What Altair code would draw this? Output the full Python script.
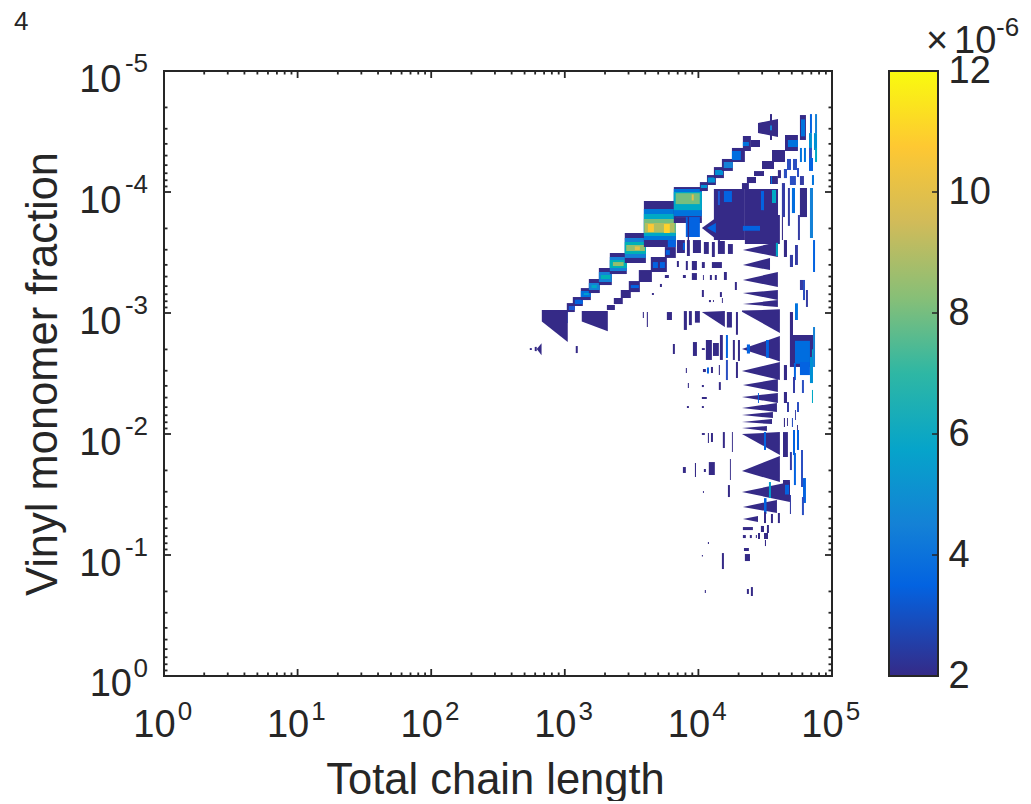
import altair as alt
import pandas as pd

# All shapes as log10(chain length) and log10(fraction).
# Rows of quads: x0, x1, top0, bottom0, top1, bottom1, value(x1e-6)
wedge_rows = [
    (2.828, 3.022, -3.025, -2.93, -3.025, -2.76, 2),
    (3.127, 3.322, -3.016, -2.93, -3.016, -2.85, 2),
    (4.026, 4.198, -3.008, -3.008, -3.016, -2.884, 2),
    (4.326, 4.61, -3.02, -3.01, -3.03, -2.835, 2),
    (4.446, 4.596, -4.57, -4.488, -4.603, -4.455, 2),
]
# Rows of triangles: tip x, end x, tip y, end top, end bottom, value
triangle_rows = [
    (2.79, 2.826, -2.702, -2.75, -2.65, 2),
    (4.026, 4.161, -3.702, -3.81, -3.587, 2),
    (4.064, 4.131, -3.702, -3.744, -3.661, 3.5),
    (4.333, 4.595, -3.521, -3.587, -3.463, 2),
    (4.333, 4.536, -3.397, -3.455, -3.355, 2),
    (4.333, 4.595, -3.273, -3.339, -3.215, 2),
    (4.333, 4.595, -3.165, -3.19, -3.107, 2),
    (4.333, 4.595, -3.074, -3.107, -3.05, 2),
    (4.326, 4.61, -2.702, -2.81, -2.6, 2),
    (4.326, 4.61, -2.52, -2.595, -2.446, 2),
    (4.333, 4.595, -2.405, -2.454, -2.347, 2),
    (4.326, 4.595, -2.306, -2.339, -2.256, 2),
    (4.326, 4.588, -2.215, -2.256, -2.182, 2),
    (4.326, 4.558, -2.157, -2.182, -2.132, 2),
    (4.326, 4.551, -2.099, -2.124, -2.082, 2),
    (4.326, 4.513, -2.049, -2.066, -2.025, 2),
    (4.326, 4.61, -2.0, -2.016, -1.826, 2),
    (4.326, 4.61, -1.694, -1.818, -1.603, 2),
    (4.326, 4.685, -1.521, -1.603, -1.438, 2),
    (4.333, 4.588, -1.397, -1.455, -1.347, 2),
    (4.333, 4.446, -1.297, -1.322, -1.273, 2),
]
# Rows of boxes: x0, x1, top, bottom, value
lump_rows = [
    (4.116, 4.348, -4.025, -3.603, 2),
    (4.348, 4.596, -4.025, -3.81, 2),
    (4.348, 4.61, -3.81, -3.57, 2),
]
lump_overlay_rows = [
    (4.333, 4.461, -3.72, -3.68, 3.5),
    (4.146, 4.161, -4.008, -3.892, 3.3),
    (4.191, 4.251, -4.008, -3.917, 3.5),
    (4.468, 4.491, -4.008, -3.85, 3.5),
    (4.551, 4.581, -4.017, -3.909, 6),
    (4.625, 4.648, -4.074, -3.793, 2.5),
    (4.67, 4.685, -4.033, -3.72, 2.5),
    (4.7, 4.723, -4.033, -3.826, 3.8),
    (4.76, 4.813, -4.033, -3.793, 2),
    (4.835, 4.858, -4.033, -3.62, 4.5),
    (4.625, 4.633, -3.793, -3.603, 2),
    (4.745, 4.76, -3.81, -3.603, 2.5),
    (4.58, 4.595, -3.58, -3.47, 6),
    (4.363, 4.386, -2.74, -2.665, 3.5),
    (4.506, 4.528, -2.777, -2.63, 3.5),
    (4.491, 4.506, -2.016, -1.868, 3.5),
    (4.528, 4.543, -1.603, -1.471, 5.5),
    (4.491, 4.51, -1.47, -1.34, 3.5),
    (4.446, 4.453, -2.339, -2.256, 3.5),
    (4.064, 4.079, -2.55, -2.5, 3.5),
]
# Upper diagonal ridge, outermost box first
ridge_rows = [
    (3.015, 3.075, -3.082, -3.008, 2), (3.03, 3.075, -3.058, -3.025, 3.3),
    (3.06, 3.135, -3.132, -3.058, 2), (3.075, 3.135, -3.11, -3.074, 3.5),
    (3.12, 3.195, -3.206, -3.107, 2), (3.12, 3.195, -3.182, -3.132, 4), (3.142, 3.18, -3.165, -3.149, 5.5),
    (3.18, 3.262, -3.281, -3.165, 2), (3.18, 3.262, -3.248, -3.19, 4.5), (3.2, 3.24, -3.231, -3.206, 6),
    (3.255, 3.352, -3.372, -3.231, 2), (3.255, 3.352, -3.339, -3.256, 4.5), (3.27, 3.34, -3.314, -3.281, 6.5),
    (3.337, 3.464, -3.496, -3.322, 2), (3.337, 3.464, -3.463, -3.347, 4.5), (3.337, 3.464, -3.438, -3.372, 6.5),
    (3.36, 3.44, -3.421, -3.388, 8.5),
    (3.449, 3.607, -3.661, -3.413, 2), (3.449, 3.607, -3.62, -3.455, 4.5), (3.449, 3.607, -3.587, -3.488, 6.5),
    (3.46, 3.6, -3.562, -3.512, 8.5), (3.524, 3.562, -3.55, -3.52, 10),
    (3.592, 3.831, -3.926, -3.545, 2), (3.592, 3.831, -3.859, -3.603, 4.2), (3.592, 3.831, -3.818, -3.636, 6),
    (3.592, 3.831, -3.777, -3.661, 8), (3.6, 3.82, -3.744, -3.669, 9),
    (3.622, 3.667, -3.735, -3.669, 10.7), (3.742, 3.786, -3.735, -3.661, 11),
    (3.816, 4.026, -4.041, -3.793, 2), (3.816, 4.026, -4.025, -3.8, 4), (3.816, 4.026, -4.0, -3.85, 6),
    (3.83, 4.01, -3.99, -3.9, 8), (3.95, 3.965, -3.98, -3.93, 10),
    (3.816, 4.026, -3.793, -3.744, 2), (3.906, 4.011, -3.793, -3.628, 3.5), (3.92, 3.93, -3.793, -3.6, 2),
    (4.011, 4.071, -4.082, -4.008, 2), (4.018, 4.065, -4.058, -4.033, 5),
    (4.064, 4.131, -4.14, -4.058, 2), (4.07, 4.125, -4.12, -4.078, 5),
    (4.116, 4.191, -4.206, -4.115, 2), (4.125, 4.185, -4.182, -4.14, 5),
    (4.176, 4.258, -4.273, -4.174, 2), (4.19, 4.258, -4.248, -4.198, 4.5),
    (4.251, 4.348, -4.364, -4.248, 2), (4.251, 4.318, -4.339, -4.264, 3.8),
    (4.333, 4.393, -4.463, -4.339, 2), (4.333, 4.378, -4.413, -4.38, 4),
    (4.393, 4.461, -4.43, -4.372, 2),
    (4.536, 4.551, -4.644, -4.43, 2), (4.536, 4.551, -4.55, -4.51, 4.5),
]
# Lower diagonal ridge
lower_ridge_rows = [
    (3.315, 3.375, -3.066, -3.025, 2), (3.367, 3.434, -3.124, -3.074, 2),
    (3.419, 3.494, -3.19, -3.124, 2), (3.479, 3.562, -3.264, -3.173, 2),
    (3.494, 3.554, -3.231, -3.206, 3.5), (3.554, 3.652, -3.355, -3.256, 2),
    (3.644, 3.764, -3.463, -3.339, 2), (3.659, 3.697, -3.421, -3.372, 3.5),
    (3.712, 3.749, -3.421, -3.372, 3.5), (3.749, 3.831, -3.545, -3.455, 2),
    (3.756, 3.786, -3.52, -3.48, 3.5), (3.771, 3.831, -3.603, -3.545, 3.5),
]
# Upper right columns
column_rows = [
    (4.76, 4.805, -4.636, -4.43, 2), (4.768, 4.798, -4.6, -4.46, 4),
    (4.835, 4.85, -4.644, -4.487, 3.5), (4.873, 4.888, -4.644, -4.487, 4.5),
    (4.648, 4.745, -4.471, -4.339, 2), (4.67, 4.745, -4.43, -4.372, 4),
    (4.828, 4.85, -4.487, -4.347, 5), (4.865, 4.888, -4.487, -4.347, 5),
    (4.551, 4.648, -4.347, -4.248, 2),
    (4.76, 4.775, -4.364, -4.248, 4), (4.79, 4.805, -4.364, -4.248, 4),
    (4.828, 4.85, -4.364, -4.248, 3), (4.873, 4.888, -4.364, -4.248, 6),
    (4.476, 4.566, -4.256, -4.19, 2),
    (4.663, 4.693, -4.273, -4.182, 3), (4.708, 4.738, -4.273, -4.182, 3),
    (4.828, 4.858, -4.281, -4.174, 3.5),
    (4.416, 4.491, -4.173, -4.132, 2),
    (4.595, 4.618, -4.181, -4.115, 2), (4.64, 4.663, -4.19, -4.115, 3), (4.738, 4.753, -4.198, -4.124, 3),
    (4.363, 4.431, -4.124, -4.074, 2), (4.536, 4.595, -4.132, -4.066, 2), (4.543, 4.551, -4.132, -4.066, 4),
    (4.685, 4.73, -4.132, -4.058, 3), (4.76, 4.79, -4.132, -4.058, 2.5), (4.85, 4.865, -4.14, -4.058, 4),
    (4.326, 4.378, -4.074, -4.025, 2),
]
# Middle streaks and blocks
block_rows = [
    (3.839, 3.899, -3.603, -3.496, 2), (3.884, 3.899, -3.58, -3.521, 3.5),
    (3.914, 3.936, -3.603, -3.471, 2), (3.959, 4.019, -3.603, -3.496, 2),
    (4.041, 4.078, -3.587, -3.488, 2), (4.101, 4.123, -3.587, -3.463, 2),
    (4.146, 4.198, -3.595, -3.488, 2), (4.221, 4.258, -3.57, -3.488, 2),
    (4.64, 4.663, -3.603, -3.463, 2), (4.723, 4.745, -3.562, -3.397, 2.5),
    (4.685, 4.708, -3.48, -3.38, 2.5), (4.76, 4.783, -3.273, -3.19, 2.5),
    (4.858, 4.873, -3.603, -3.339, 3.5), (4.783, 4.798, -3.273, -3.107, 3),
    (4.805, 4.82, -3.19, -3.05, 2.5),
    (4.685, 4.708, -3.008, -2.818, 2), (4.723, 4.745, -3.08, -2.942, 4),
    (4.858, 4.873, -2.884, -2.554, 4.5),
    (2.738, 2.753, -2.71, -2.694, 2), (2.775, 2.79, -2.72, -2.685, 2),
    (2.97, 3.022, -3.016, -2.917, 3.5), (3.082, 3.097, -2.727, -2.669, 2),
    (3.584, 3.592, -3.008, -2.958, 2), (3.614, 3.622, -3.008, -2.884, 2),
    (3.764, 3.802, -3.008, -2.942, 2), (3.891, 3.914, -3.016, -2.86, 2),
    (3.929, 3.951, -3.016, -2.9, 2), (3.974, 4.011, -3.016, -2.92, 2),
    (4.213, 4.251, -3.008, -2.88, 2), (4.281, 4.296, -3.008, -2.82, 2),
    (3.809, 3.824, -2.744, -2.661, 2), (3.959, 3.989, -2.76, -2.645, 2),
    (4.026, 4.048, -2.71, -2.694, 2), (4.056, 4.101, -2.777, -2.612, 2),
    (4.109, 4.153, -2.752, -2.645, 2), (4.161, 4.183, -2.818, -2.612, 2),
    (4.206, 4.221, -2.818, -2.628, 3.5), (4.258, 4.273, -2.777, -2.612, 2),
    (4.296, 4.311, -2.777, -2.604, 2),
    (4.685, 4.858, -2.818, -2.554, 2), (4.723, 4.835, -2.77, -2.58, 3.8),
    (4.85, 4.858, -2.7, -2.6, 6),
]
# Lower right columns and isolated specks
speck_rows = [
    (4.715, 4.73, -2.587, -2.446, 3.5), (4.64, 4.663, -2.57, -2.446, 2),
    (4.76, 4.835, -2.595, -2.487, 3.5), (4.835, 4.858, -2.636, -2.421, 5),
    (4.708, 4.723, -2.471, -2.339, 2.5), (4.775, 4.79, -2.446, -2.339, 3),
    (4.85, 4.858, -2.364, -2.256, 6), (4.64, 4.663, -2.347, -2.256, 2),
    (4.663, 4.678, -2.264, -2.182, 2.5), (4.738, 4.753, -2.264, -2.182, 3),
    (4.723, 4.73, -2.198, -2.116, 2.5), (4.64, 4.648, -2.132, -2.058, 2),
    (4.663, 4.67, -2.132, -2.066, 2), (4.7, 4.708, -2.132, -2.058, 3),
    (4.738, 4.745, -2.074, -2.016, 2), (4.633, 4.67, -2.016, -1.81, 2),
    (4.708, 4.723, -2.033, -1.826, 3.5), (4.738, 4.753, -2.033, -1.868, 3.5),
    (4.685, 4.7, -1.851, -1.702, 2.5), (4.715, 4.73, -1.843, -1.578, 3.5),
    (4.768, 4.783, -1.868, -1.562, 3), (4.633, 4.685, -1.62, -1.455, 2),
    (4.648, 4.678, -1.58, -1.5, 3.5), (4.783, 4.805, -1.636, -1.43, 3.5),
    (4.685, 4.693, -1.496, -1.339, 2.5), (4.775, 4.79, -1.479, -1.33, 3),
    (4.491, 4.506, -1.355, -1.264, 2), (4.543, 4.558, -1.339, -1.264, 2),
    (4.595, 4.61, -1.347, -1.264, 2), (4.333, 4.408, -1.231, -1.206, 2),
    (4.468, 4.491, -1.24, -1.19, 2), (4.513, 4.528, -1.248, -1.182, 2),
    (4.333, 4.355, -1.165, -1.14, 2), (4.385, 4.4, -1.165, -1.14, 2),
    (4.43, 4.438, -1.165, -1.14, 2), (4.446, 4.461, -1.182, -1.132, 2),
    (4.491, 4.521, -1.182, -1.132, 2), (4.498, 4.506, -1.124, -1.074, 2),
    (4.341, 4.378, -1.058, -1.033, 2), (4.348, 4.386, -1.008, -0.95, 2),
    (4.176, 4.191, -1.016, -0.884, 2), (4.026, 4.034, -1.0, -0.988, 2),
    (4.363, 4.378, -0.719, -0.678, 2), (4.393, 4.408, -0.735, -0.661, 2),
    (4.048, 4.056, -0.711, -0.686, 2), (4.071, 4.079, -1.107, -1.091, 2),
    (3.884, 3.906, -1.727, -1.678, 2), (3.974, 3.982, -1.76, -1.645, 2),
    (4.041, 4.056, -1.711, -1.686, 2), (4.078, 4.123, -1.768, -1.661, 2),
    (4.236, 4.243, -1.793, -1.62, 2), (4.026, 4.048, -2.008, -1.992, 2),
    (4.071, 4.079, -2.008, -1.926, 2), (4.094, 4.109, -2.008, -1.934, 2),
    (4.183, 4.198, -2.016, -1.884, 2), (4.251, 4.258, -2.016, -1.851, 2),
    (4.034, 4.041, -1.529, -1.512, 2), (4.221, 4.236, -1.578, -1.479, 2),
    (3.914, 3.929, -2.231, -2.215, 2), (4.026, 4.041, -2.231, -2.215, 2),
    (4.026, 4.063, -2.306, -2.289, 2), (3.921, 3.929, -2.421, -2.38, 2),
    (4.026, 4.041, -2.405, -2.388, 2), (4.153, 4.168, -2.429, -2.364, 2),
    (3.906, 3.914, -2.545, -2.504, 2), (4.034, 4.056, -2.537, -2.512, 2),
    (4.094, 4.109, -2.554, -2.504, 2), (4.153, 4.161, -2.57, -2.487, 2),
    (4.206, 4.221, -2.612, -2.446, 3), (4.281, 4.296, -2.595, -2.463, 2),
    (3.839, 3.854, -3.43, -3.38, 2), (3.906, 3.921, -3.43, -3.355, 2),
    (3.951, 3.989, -3.43, -3.355, 2), (4.026, 4.048, -3.421, -3.372, 2),
    (4.101, 4.176, -3.421, -3.372, 2), (3.884, 3.906, -3.314, -3.289, 2),
    (3.951, 3.989, -3.33, -3.273, 2), (4.034, 4.041, -3.314, -3.273, 2),
    (4.086, 4.101, -3.314, -3.273, 2), (4.123, 4.138, -3.314, -3.273, 2),
    (4.191, 4.213, -3.339, -3.273, 2), (4.273, 4.288, -3.256, -3.19, 2),
    (4.026, 4.041, -3.19, -3.132, 2), (4.161, 4.176, -3.173, -3.132, 2),
    (4.079, 4.094, -3.107, -3.09, 2), (4.109, 4.116, -3.107, -3.09, 2),
    (4.176, 4.183, -3.124, -3.082, 2), (3.652, 3.667, -3.165, -3.149, 2),
    (3.712, 3.727, -3.24, -3.215, 2), (3.749, 3.779, -3.314, -3.289, 2),
]

x_decades = [1, 10, 100, 1000, 10000, 100000]
y_decades = [0.00001, 0.0001, 0.001, 0.01, 0.1, 1]
x_exponents = ["0", "1", "2", "3", "4", "5"]
y_exponents = ["-5", "-4", "-3", "-2", "-1", "0"]
minor_steps = [2, 3, 4, 5, 6, 7, 8, 9]
x_minor = [s * d for d in x_decades[:-1] for s in minor_steps]
y_minor = [s * d for d in y_decades[:-1] for s in minor_steps]
colorbar_ticks = [2, 4, 6, 8, 10, 12]
parula_levels = [2, 3.5, 4.5, 5.75, 7, 8.25, 9.5, 10.75, 12]
parula_colors = ["#352a87", "#0363e1", "#1481d6", "#06a4ca", "#2eb7a4",
                 "#87bf77", "#d1bb59", "#fec832", "#f9fb0e"]

INK = "#262626"
FONT = "Liberation Sans"
W, H = 668, 605

rows = []
def add(shape_id, x0, x1, t0, b0, t1, b1, v):
    rows.append(dict(id=shape_id, x=10 ** x0, y=10 ** t0, y2=10 ** b0, v=v))
    rows.append(dict(id=shape_id, x=10 ** x1, y=10 ** t1, y2=10 ** b1, v=v))

n = 0
for r in lump_rows + block_rows:
    n += 1
    add(n, r[0], r[1], r[2], r[3], r[2], r[3], r[4])
for r in wedge_rows:
    n += 1
    add(n, r[0], r[1], r[2], r[3], r[4], r[5], r[6])
for r in triangle_rows:
    n += 1
    add(n, r[0], r[1], r[2], r[2], r[3], r[4], r[5])
for r in lump_overlay_rows + ridge_rows + lower_ridge_rows + column_rows + speck_rows:
    n += 1
    add(n, r[0], r[1], r[2], r[3], r[2], r[3], r[4])
shapes = pd.DataFrame(rows)

x_scale = alt.Scale(type="log", domain=[1, 100000], nice=False)
y_scale = alt.Scale(type="log", domain=[0.00001, 1], nice=False, reverse=True)
color_scale = alt.Scale(domain=parula_levels, range=parula_colors)

surface = alt.Chart(shapes).mark_area(orient="vertical", interpolate="linear").encode(
    x=alt.X("x:Q", scale=x_scale, axis=None),
    y=alt.Y("y:Q", scale=y_scale, axis=None),
    y2="y2:Q",
    detail="id:N",
    color=alt.Color("v:Q", scale=color_scale, legend=None),
)

x_axis_layer = alt.Chart(pd.DataFrame({"x": x_decades, "e": x_exponents})).mark_text(
    font=FONT, fontSize=26, color=INK, align="center", baseline="alphabetic", dx=21
).encode(
    x=alt.X("x:Q", scale=x_scale, title="Total chain length", axis=alt.Axis(
        orient="bottom", values=x_decades, labelExpr="'10'", labelOffset=-10, labelFontSize=38,
        labelFont=FONT, labelColor=INK, labelPadding=60, labelFlush=False, labelOverlap=False,
        labelBound=False, labelBaseline="alphabetic", ticks=False, domain=False, grid=False,
        titleFont=FONT, titleFontSize=43.5, titleColor=INK, titleFontWeight="normal",
        titlePadding=15, titleX=331)),
    y=alt.value(649),
    text="e:N",
)
y_axis_layer = alt.Chart(pd.DataFrame({"y": y_decades, "e": y_exponents})).mark_text(
    font=FONT, fontSize=26, color=INK, align="right", baseline="alphabetic", dy=1
).encode(
    y=alt.Y("y:Q", scale=y_scale, title="Vinyl monomer fraction", axis=alt.Axis(
        orient="left", values=y_decades[:-1], labelExpr="'10'", labelOffset=20,
        labelBaseline="alphabetic", labelFontSize=38, labelFont=FONT, labelColor=INK,
        labelPadding=43, labelFlush=False, labelOverlap=False, labelBound=False,
        ticks=False, domain=False, grid=False, titleFont=FONT, titleFontSize=43.5, titleColor=INK,
        titleFontWeight="normal", titlePadding=13)),
    x=alt.value(-16),
    text="e:N",
)
y_unit_label = alt.Chart(pd.DataFrame({"y": y_decades[-1:], "t": ["10"]})).mark_text(
    font=FONT, fontSize=38, color=INK, align="right", baseline="alphabetic", dy=20
).encode(
    y=alt.Y("y:Q", scale=y_scale, axis=None),
    x=alt.value(-32),
    text="t:N",
)

def x_ticks(values, size):
    base = alt.Chart(pd.DataFrame({"x": values})).mark_rule(color=INK, strokeWidth=1.8)
    xe = alt.X("x:Q", scale=x_scale, axis=None)
    return [
        base.encode(x=xe, y=alt.value(H), y2=alt.value(H - size)),
        base.encode(x=xe, y=alt.value(0), y2=alt.value(size)),
    ]

def y_ticks(values, size):
    base = alt.Chart(pd.DataFrame({"y": values})).mark_rule(color=INK, strokeWidth=1.8)
    ye = alt.Y("y:Q", scale=y_scale, axis=None)
    return [
        base.encode(y=ye, x=alt.value(0), x2=alt.value(size)),
        base.encode(y=ye, x=alt.value(W), x2=alt.value(W - size)),
    ]

gradient = alt.LinearGradient(
    gradient="linear", x1=0, x2=0, y1=1, y2=0,
    stops=[alt.GradientStop(color=c, offset=(l - 2) / 10) for l, c in zip(parula_levels, parula_colors)],
)
bar_scale = alt.Scale(domain=[2, 12], nice=False)
colorbar = alt.Chart(pd.DataFrame({"a": [0], "b": [1], "lo": [2], "hi": [12]})).mark_rect(
    fill=gradient, stroke=INK, strokeWidth=2
).encode(
    x=alt.X("a:Q", scale=alt.Scale(domain=[0, 1], range=[725, 774]), axis=None),
    x2="b:Q",
    y=alt.Y("lo:Q", scale=bar_scale, title=None, axis=alt.Axis(
        orient="right", offset=106, values=colorbar_ticks, labelFontSize=38, labelFont=FONT,
        labelColor=INK, labelPadding=10, labelFlush=False, labelOverlap=False, labelBound=False,
        ticks=False, domain=False, grid=False)),
    y2="hi:Q",
)
colorbar_tick_marks = alt.Chart(pd.DataFrame({"t": colorbar_ticks[1:-1]})).mark_rule(
    color=INK, strokeWidth=1.5
).encode(
    y=alt.Y("t:Q", scale=bar_scale, axis=None),
    x=alt.value(768), x2=alt.value(774),
)

def note(text, px, py, size, align="left"):
    return alt.Chart(pd.DataFrame({"t": [text]})).mark_text(
        font=FONT, fontSize=size, color=INK, align=align, baseline="alphabetic"
    ).encode(x=alt.value(px), y=alt.value(py), text="t:N")

chart = alt.layer(
    surface, x_axis_layer, y_axis_layer, y_unit_label,
    *x_ticks(x_decades[1:-1], 7), *x_ticks(x_minor, 3.5),
    *y_ticks(y_decades[1:-1], 7), *y_ticks(y_minor, 3.5),
    colorbar, colorbar_tick_marks,
    note("\u00d7", 773, -18, 38, "center"),
    note("10", 790, -18, 38),
    note("-6", 832, -35, 26),
    note("4", -150, -41, 26),
).resolve_scale(x="independent", y="independent", color="independent").properties(
    width=W, height=H,
    autosize=alt.AutoSizeParams(type="none"),
    padding={"left": 156, "top": 63, "right": 191, "bottom": 125},
).configure_view(stroke=INK, strokeWidth=2)

chart.save("out.html", embed_options={"renderer": "svg", "actions": False})
